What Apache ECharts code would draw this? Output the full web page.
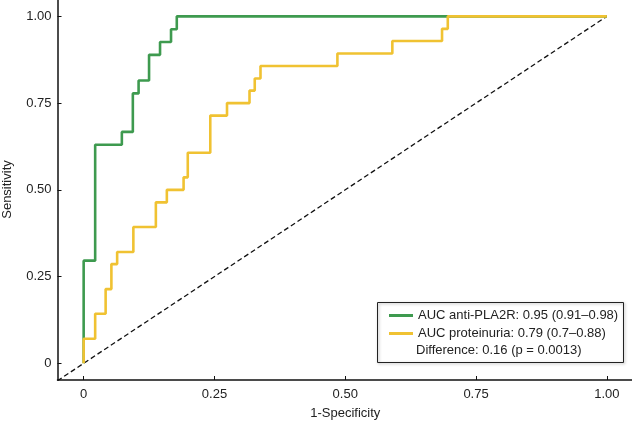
<!DOCTYPE html>
<html>
<head>
<meta charset="utf-8">
<script src="https://cdn.jsdelivr.net/npm/echarts@6/dist/echarts.min.js"></script>
<style>html,body{margin:0;padding:0;background:#fff}#c{width:632px;height:423px}</style>
</head>
<body>
<div id="c"></div>
<script>
// ROC step points (x = 1-specificity where horizontal run ends, y = sensitivity level)
const pla2rFpr = [0, 0.022, 0.073, 0.094, 0.105, 0.125, 0.146, 0.167, 0.178, 1];
const pla2rTpr = [0, 0.296, 0.630, 0.667, 0.778, 0.815, 0.889, 0.926, 0.963, 1];
const protFpr = [0, 0.022, 0.042, 0.053, 0.064, 0.095, 0.138, 0.159, 0.191, 0.199, 0.242, 0.274, 0.317, 0.327, 0.338, 0.485, 0.590, 0.685, 0.696, 1];
const protTpr = [0, 0.071, 0.143, 0.214, 0.286, 0.321, 0.393, 0.464, 0.5, 0.536, 0.607, 0.714, 0.75, 0.786, 0.821, 0.857, 0.893, 0.929, 0.964, 1];
const diagX = [-0.05, 1];
const diagY = [-0.05, 1];
const tickValues = [0, 0.25, 0.5, 0.75, 1];
const seriesNames = ['AUC anti-PLA2R: 0.95 (0.91\u20130.98)', 'AUC proteinuria: 0.79 (0.7\u20130.88)'];
const diffText = 'Difference: 0.16 (p = 0.0013)';

const zip = (a, b) => a.map((v, i) => [v, b[i]]);
const fmt = v => (v === 0 ? '0' : v.toFixed(2));
const font = 'Liberation Sans, Arial, sans-serif';

const chart = echarts.init(document.getElementById('c'));
chart.setOption({
  animation: false,
  backgroundColor: '#fff',
  grid: { left: 57.5, right: -1, top: -1, bottom: 43, containLabel: false, outerBoundsMode: 'none' },
  xAxis: {
    type: 'value', min: -0.05, max: 1.05,
    name: '1-Specificity', nameLocation: 'middle', nameGap: 27,
    nameTextStyle: { fontFamily: font, fontSize: 13, color: '#222' },
    axisLine: { show: true, onZero: false, lineStyle: { color: '#111', width: 1.5 } },
    axisTick: { show: true, inside: true, length: 4, customValues: tickValues, lineStyle: { color: '#111' } },
    axisLabel: { customValues: tickValues, formatter: fmt, fontFamily: font, fontSize: 13, color: '#222', margin: 8 },
    splitLine: { show: false }
  },
  yAxis: {
    type: 'value', min: -0.048, max: 1.05,
    name: 'Sensitivity', nameLocation: 'middle', nameGap: 44, nameRotate: 90,
    nameTextStyle: { fontFamily: font, fontSize: 13, color: '#222' },
    axisLine: { show: true, onZero: false, lineStyle: { color: '#111', width: 1.5 } },
    axisTick: { show: true, inside: true, length: 4, customValues: tickValues, lineStyle: { color: '#111' } },
    axisLabel: { customValues: tickValues, formatter: fmt, fontFamily: font, fontSize: 13, color: '#222', margin: 6 },
    splitLine: { show: false }
  },
  legend: {
    orient: 'vertical', left: 384, top: 304,
    itemWidth: 24, itemHeight: 3, itemGap: 5,
    icon: 'rect',
    textStyle: { fontFamily: font, fontSize: 13, color: '#222' },
    data: seriesNames
  },
  graphic: [
    { type: 'rect', left: 377, top: 302, shape: { width: 246, height: 60 },
      style: { fill: 'rgba(0,0,0,0)', stroke: '#222', lineWidth: 1, shadowBlur: 3, shadowColor: 'rgba(0,0,0,0.35)', shadowOffsetX: 1, shadowOffsetY: 1 }, z: 10 },
    { type: 'text', left: 416, top: 344, style: { text: diffText, font: '13px ' + font, fill: '#222' }, z: 11 }
  ],
  series: [
    {
      type: 'line', name: 'diag', data: zip(diagX, diagY), symbol: 'none',
      lineStyle: { color: '#111', width: 1.3, type: [5, 3] }, silent: true, z: 1
    },
    {
      type: 'line', name: seriesNames[0], data: zip(pla2rFpr, pla2rTpr), step: 'start', symbol: 'none',
      color: '#3e9a4f', lineStyle: { color: '#3e9a4f', width: 2.6 }, z: 2
    },
    {
      type: 'line', name: seriesNames[1], data: zip(protFpr, protTpr), step: 'start', symbol: 'none',
      color: '#f0c232', lineStyle: { color: '#f0c232', width: 2.6 }, z: 3
    }
  ]
});
</script>
</body>
</html>
